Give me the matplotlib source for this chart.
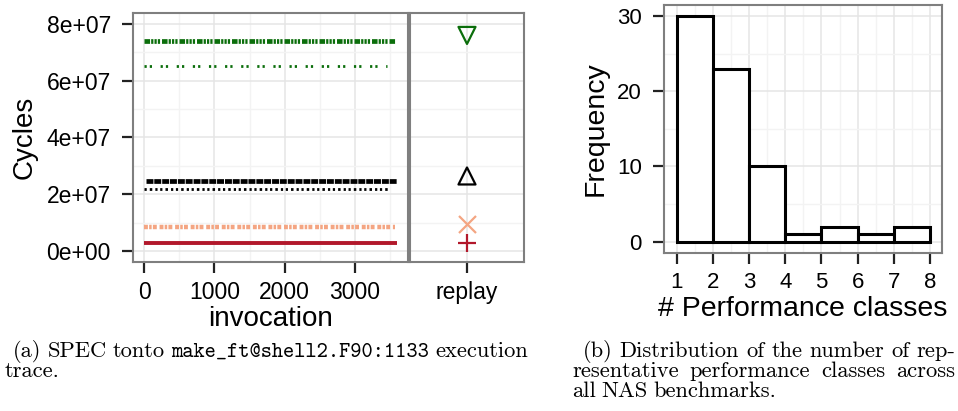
import numpy as np
import matplotlib
matplotlib.use("Agg")
import matplotlib.pyplot as plt
from matplotlib.ticker import MultipleLocator

plt.rcParams['font.family'] = ['Liberation Sans', 'DejaVu Sans']
plt.rcParams['lines.scale_dashes'] = False

# ---- data: execution trace (a) ----
trace_levels = [7.40e7, 6.50e7, 2.47e7, 2.18e7, 8.6e6, 2.9e6]
trace_start = [0, 0, 25, 0, 0, 0]
trace_end = [3570, 3450, 3600, 3490, 3570, 3600]
trace_colors = ['#0B6E0B', '#0B6E0B', 'black', 'black', '#F4A582', '#B2182B']
trace_widths = [3.4, 2.0, 3.4, 2.0, 3.2, 2.8]
trace_dashes = [(4, 0.8, 1.6, 0.8, 1.6, 0.8, 1.6, 1.4), (1.6, 2.2, 1.6, 6.2),
                (5, 0.6, 5, 0.7), (1.6, 2.2, 1.8, 2.2, 1.6, 1.9),
                (2.8, 0.9, 1.8, 0.9, 2.8, 2.0), None]

replay_values = [7.59e7, 2.64e7, 9.5e6, 2.9e6]
replay_markers = ['v', '^', 'x', '+']
replay_colors = ['#0B6E0B', 'black', '#F4A582', '#B2182B']

# ---- data: histogram (b) ----
class_edges = [1, 2, 3, 4, 5, 6, 7]
class_freq = [30, 23, 10, 1, 2, 1, 2]

W, H = 958, 411
fig = plt.figure(figsize=(W / 100, H / 100), dpi=100)


def px_axes(l, r, t, b):
    return fig.add_axes([l / W, 1 - b / H, (r - l) / W, (b - t) / H])


def style(ax, tick_size):
    for s in ax.spines.values():
        s.set_color('#7f7f7f')
        s.set_linewidth(1.5)
    ax.grid(True, which='major', color='#e5e5e5', lw=1.1)
    ax.grid(True, which='minor', color='#f3f3f3', lw=1.0)
    ax.set_axisbelow(True)
    ax.tick_params(which='major', length=8, width=1.6, color='#222222',
                   labelsize=tick_size, pad=6)
    ax.tick_params(which='minor', length=0)


# left panel
ax1 = px_axes(133, 408, 13, 262)
for lv, x0, x1, c, w, d in zip(trace_levels, trace_start, trace_end,
                               trace_colors, trace_widths, trace_dashes):
    if d is None:
        ax1.plot([x0, x1], [lv, lv], color=c, lw=w, solid_capstyle='butt')
    else:
        ax1.plot([x0, x1], [lv, lv], color=c, lw=w, dashes=d, dash_capstyle='butt')
ax1.set_xlim(-160, 3755)
ax1.set_ylim(-3.9e6, 8.38e7)
ax1.set_xticks([0, 1000, 2000, 3000])
ax1.xaxis.set_minor_locator(MultipleLocator(500))
ax1.set_yticks([0, 2e7, 4e7, 6e7, 8e7])
ax1.set_yticklabels(['0e+00', '2e+07', '4e+07', '6e+07', '8e+07'])
ax1.yaxis.set_minor_locator(MultipleLocator(1e7))
style(ax1, 16.5)
ax1.tick_params(axis='y', pad=8)
ax1.set_xlabel('invocation', fontsize=20, labelpad=1)
ax1.set_ylabel('Cycles', fontsize=20, labelpad=6)

# replay panel
ax2 = px_axes(410, 524, 13, 262)
for v, m, c in zip(replay_values, replay_markers, replay_colors):
    ax2.scatter([0], [v], marker=m, s=150,
                facecolors='none' if m in 'v^' else c, edgecolors=c, linewidths=1.6,
                zorder=3)
ax2.set_xlim(-0.6, 0.6)
ax2.set_ylim(ax1.get_ylim())
ax2.set_xticks([0])
ax2.set_xticklabels(['replay'])
ax2.set_yticks([0, 2e7, 4e7, 6e7, 8e7])
ax2.yaxis.set_minor_locator(MultipleLocator(1e7))
style(ax2, 16.5)
ax2.tick_params(axis='y', length=0, labelleft=False)

# right panel: histogram
ax3 = px_axes(664, 942, 5, 253)
ax3.bar(class_edges, class_freq, width=1, align='edge', facecolor='white',
        edgecolor='black', linewidth=2.2, zorder=3)
ax3.set_xlim(0.65, 8.33)
ax3.set_ylim(-1.5, 31.45)
ax3.set_xticks(range(1, 9))
ax3.xaxis.set_minor_locator(MultipleLocator(0.5))
ax3.set_yticks([0, 10, 20, 30])
ax3.yaxis.set_minor_locator(MultipleLocator(5))
style(ax3, 16)
ax3.tick_params(axis='y', pad=8)
ax3.set_xlabel('# Performance classes', fontsize=20.5, labelpad=2)
ax3.set_ylabel('Frequency', fontsize=20.5, labelpad=6)

# captions (justified like the LaTeX source)
renderer = fig.canvas.get_renderer()
rm = ['cmr10', 'DejaVu Serif']
tt = ['cmtt10', 'DejaVu Sans Mono']
rm_size = 16.2
tt_size = 15.4


def put_line(x, y, words, right=None):
    """words: list of (text, family, size); gaps are stretched to reach right."""
    arts = []
    for txt, fam, sz in words:
        t = fig.text(x / W, 1 - y / H, txt, family=fam, fontsize=sz,
                     va='baseline', ha='left')
        arts.append((t, t.get_window_extent(renderer).width))
    total = sum(w for _, w in arts)
    gap = 5.5 if right is None else (right - x - total) / max(len(arts) - 1, 1)
    for t, w in arts:
        t.set_x(x / W)
        x = x + w + gap


def words(s, fam=rm, sz=rm_size):
    return [(w, fam, sz) for w in s.split(' ')]


put_line(13, 357, words('(a) SPEC tonto') + [('make_ft@shell2.F90:1133', tt, tt_size)]
         + words('execution'), right=528)
put_line(5, 377, words('trace.'))
put_line(583, 357, words('(b) Distribution of the number of rep-'), right=955)
put_line(572, 377, words('resentative performance classes across'), right=955)
put_line(572, 397, words('all NAS benchmarks.'))

fig.savefig('out.png', dpi=100)
